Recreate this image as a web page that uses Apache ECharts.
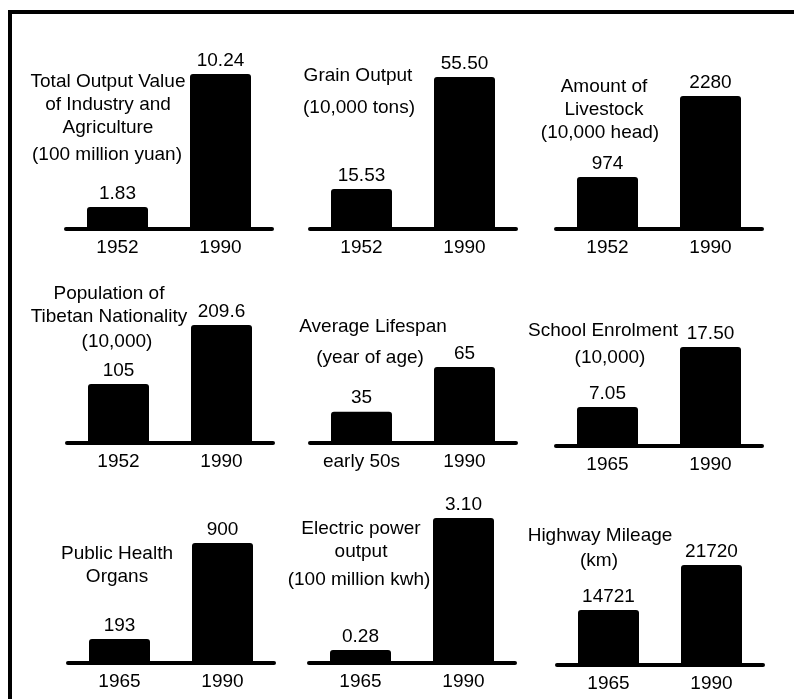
<!DOCTYPE html>
<html>
<head>
<meta charset="utf-8">
<script src="https://cdn.jsdelivr.net/npm/echarts@6/dist/echarts.min.js"></script>
<style>
  body { margin: 0; background: #fff; }
  #wrap { position: relative; width: 794px; height: 699px; overflow: hidden; }
  #frame {
    position: absolute; left: 8px; top: 10px; right: -10px; bottom: -10px;
    border-left: 4px solid #000; border-top: 4px solid #000;
    pointer-events: none;
  }
  #main { width: 794px; height: 699px; }
</style>
</head>
<body>
<div id="wrap">
  <div id="main"></div>
  <div id="frame"></div>
</div>
<script>
// 数据
const names = [
  'Total Output Value\nof Industry and\nAgriculture',
  'Grain Output',
  'Amount of\nLivestock',
  'Population of\nTibetan Nationality',
  'Average Lifespan',
  'School Enrolment',
  'Public Health\nOrgans',
  'Electric power\noutput',
  'Highway Mileage'
];
const units = ['(100 million yuan)', '(10,000 tons)', '(10,000 head)', '(10,000)', '(year of age)', '(10,000)', '', '(100 million kwh)', '(km)'];
const years = [
  ['1952', '1990'], ['1952', '1990'], ['1952', '1990'],
  ['1952', '1990'], ['early 50s', '1990'], ['1965', '1990'],
  ['1965', '1990'], ['1965', '1990'], ['1965', '1990']
];
const before = [1.83, 15.53, 974, 105, 35, 7.05, 193, 0.28, 14721];
const after = [10.24, 55.50, 2280, 209.6, 65, 17.50, 900, 3.10, 21720];
// 小数位数, -1 = 原样
const decimals = [2, 2, 0, -1, 0, 2, 0, 2, 0];
// 每个小图的 y 轴起点 (原图柱高不按比例)
const axisFloor = [0.44, 1.25, 136, 0, 14, 0.26, 16, 0, 6170];

// 布局
const gridLeft = [66, 310, 556, 67, 310, 556, 68, 309, 557];
const gridTop = [74, 77, 96, 325, 367, 347, 543, 518, 565];
const gridBottom = [229, 229, 229, 443, 443, 446, 663, 663, 665];
const nameX = [108, 358, 604, 109, 373, 603, 117, 361, 600];
const nameY = [71, 65, 76, 283, 316, 320, 543, 518, 525];
const unitX = [107, 359, 600, 117, 370, 610, 117, 359, 599];
const unitY = [144, 97, 122, 331, 347, 347, 0, 569, 550];

const font = 'Liberation Sans, Arial, Helvetica, sans-serif';
const fs = 19;

let myChart = echarts.init(document.getElementById('main'));

let grid = [], xAxis = [], yAxis = [], series = [], title = [];
names.forEach(function (name, i) {
  grid.push({
    left: gridLeft[i],
    top: gridTop[i],
    width: 206,
    height: gridBottom[i] - gridTop[i]
  });
  xAxis.push({
    type: 'category',
    gridIndex: i,
    data: years[i],
    axisTick: { show: false },
    axisLine: { lineStyle: { color: '#000', width: 4, cap: 'round' } },
    axisLabel: { color: '#000', fontSize: fs, fontFamily: font, margin: 9 }
  });
  yAxis.push({
    type: 'value',
    gridIndex: i,
    min: axisFloor[i],
    max: 'dataMax',
    show: false,
    splitLine: { show: false }
  });
  series.push({
    type: 'bar',
    xAxisIndex: i,
    yAxisIndex: i,
    data: [before[i], after[i]],
    barWidth: 61,
    itemStyle: { color: '#000', borderRadius: [3, 3, 0, 0] },
    label: {
      show: true,
      position: 'top',
      distance: 4,
      color: '#000',
      fontSize: fs,
      fontFamily: font,
      formatter: function (p) {
        return decimals[i] < 0 ? String(p.value) : p.value.toFixed(decimals[i]);
      }
    }
  });
  title.push({
    text: name,
    left: nameX[i],
    top: nameY[i] - 1,
    textAlign: 'center',
    padding: 0,
    textStyle: { fontSize: fs, fontWeight: 'normal', color: '#000', fontFamily: font, lineHeight: 23 }
  });
  if (units[i]) {
    title.push({
      text: units[i],
      left: unitX[i],
      top: unitY[i] - 1,
      textAlign: 'center',
      padding: 0,
      textStyle: { fontSize: fs, fontWeight: 'normal', color: '#000', fontFamily: font, lineHeight: 23 }
    });
  }
});

let option = {
  backgroundColor: '#fff',
  animation: false,
  title: title,
  grid: grid,
  xAxis: xAxis,
  yAxis: yAxis,
  series: series
};

myChart.setOption(option);
</script>
</body>
</html>
